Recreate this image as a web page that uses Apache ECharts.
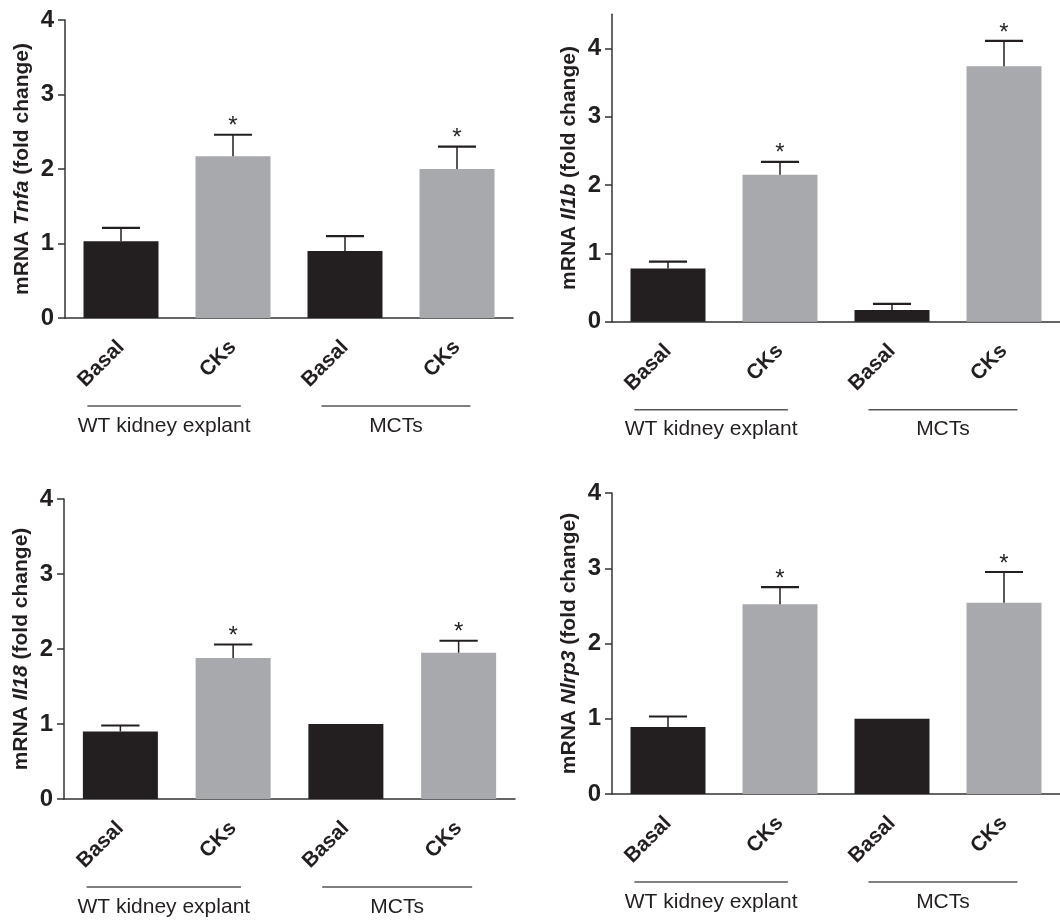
<!DOCTYPE html>
<html>
<head>
<meta charset="utf-8">
<script src="https://cdn.jsdelivr.net/npm/echarts@6/dist/echarts.min.js"></script>
<style>
html,body{margin:0;padding:0;background:#fff;}
#chart{width:1060px;height:920px;}
</style>
</head>
<body>
<div id="chart"></div>
<script>
// ---- Data ----
const categories = ['Basal', 'CKs', 'Basal', 'CKs'];
const groupNames = ['WT kidney explant', 'MCTs'];
const significant = [false, true, false, true];
const yTickValues = [0, 1, 2, 3, 4];

const tnfaMean = [1.03, 2.17, 0.90, 2.00];
const tnfaSem  = [0.18, 0.29, 0.20, 0.30];

const il1bMean = [0.78, 2.15, 0.17, 3.74];
const il1bSem  = [0.10, 0.19, 0.09, 0.37];

const il18Mean = [0.90, 1.88, 1.00, 1.95];
const il18Sem  = [0.08, 0.18, 0.00, 0.16];

const nlrp3Mean = [0.89, 2.52, 1.00, 2.54];
const nlrp3Sem  = [0.14, 0.23, 0.00, 0.41];

const geneNames = ['Tnfa', 'Il1b', 'Il18', 'Nlrp3'];
const yMax = [4, 4.5, 4, 4];
// group spans in category-index units (start, end)
const groupSpans = [[-0.30, 1.07], [1.79, 3.12]];

// ---- Styles / layout ----
const FONT = "'Liberation Sans', Arial, Helvetica, sans-serif";
const TXT = '#231f20';
const AXIS = '#333333';
const BLACK_BAR = '#231f20';
const GRAY_BAR = '#a7a9ac';

const grids = [
  {left: 65,  top: 20,    width: 448, height: 298},
  {left: 612, top: 14.3,  width: 450, height: 307.4},
  {left: 64,  top: 499,   width: 451, height: 300},
  {left: 612, top: 493,   width: 448, height: 301}
];

const means = [tnfaMean, il1bMean, il18Mean, nlrp3Mean];
const sems = [tnfaSem, il1bSem, il18Sem, nlrp3Sem];

const option = {
  animation: false,
  backgroundColor: '#ffffff',
  textStyle: {fontFamily: FONT},
  grid: grids.map(g => Object.assign({containLabel: false}, g)),
  xAxis: grids.map((g, i) => ({
    type: 'category',
    gridIndex: i,
    data: categories,
    axisLine: {lineStyle: {color: AXIS, width: 1.5}},
    axisTick: {alignWithLabel: true, length: 7, lineStyle: {color: AXIS, width: 1.5}},
    axisLabel: {
      interval: 0, rotate: 45, margin: 26,
      fontSize: 21, fontWeight: 'bold', color: TXT, fontFamily: FONT
    },
    splitLine: {show: false}
  })),
  yAxis: grids.map((g, i) => ({
    type: 'value',
    gridIndex: i,
    min: 0,
    max: yMax[i],
    interval: 1,
    name: 'mRNA {i|' + geneNames[i] + '} (fold change)',
    nameLocation: 'middle',
    nameGap: 32,
    nameRotate: 90,
    nameTextStyle: {
      fontSize: 21, fontWeight: 'bold', color: TXT, fontFamily: FONT,
      rich: {i: {fontSize: 21, fontWeight: 'bold', fontStyle: 'italic', color: TXT, fontFamily: FONT}}
    },
    axisLine: {show: true, lineStyle: {color: AXIS, width: 1.5}},
    axisTick: {show: true, length: 7, customValues: yTickValues, lineStyle: {color: AXIS, width: 1.5}},
    axisLabel: {
      customValues: yTickValues, margin: 11,
      fontSize: 24, fontWeight: 'bold', color: TXT, fontFamily: FONT
    },
    splitLine: {show: false}
  })),
  series: []
};

grids.forEach((g, i) => {
  // bars
  option.series.push({
    type: 'bar',
    xAxisIndex: i, yAxisIndex: i,
    barWidth: 75,
    data: means[i].map((v, k) => ({
      value: v,
      itemStyle: {color: categories[k] === 'Basal' ? BLACK_BAR : GRAY_BAR}
    })),
    z: 2
  });
  // error bars + significance
  option.series.push({
    type: 'custom',
    xAxisIndex: i, yAxisIndex: i,
    clip: false,
    z: 3,
    data: means[i].map((v, k) => [k, v, sems[i][k], significant[k] ? 1 : 0]),
    renderItem: function (params, api) {
      const k = api.value(0), m = api.value(1), e = api.value(2), sig = api.value(3);
      const base = api.coord([k, m]);
      const top = api.coord([k, m + e]);
      const band = api.size([1, 0])[0];
      const capHalf = band * 0.17;
      const children = [];
      if (e > 0) {
        children.push({type: 'line', shape: {x1: base[0], y1: base[1], x2: top[0], y2: top[1]},
          style: {stroke: '#231f20', lineWidth: 1.5}});
        children.push({type: 'line', shape: {x1: top[0] - capHalf, y1: top[1], x2: top[0] + capHalf, y2: top[1]},
          style: {stroke: '#231f20', lineWidth: 2.2}});
      }
      if (sig) {
        children.push({type: 'text', x: top[0], y: top[1] - 8,
          style: {text: '*', fontSize: 24, fontFamily: FONT, fill: TXT, align: 'center', verticalAlign: 'middle'}});
      }
      return {type: 'group', children: children};
    }
  });
  // group brackets below axis
  option.series.push({
    type: 'custom',
    xAxisIndex: i, yAxisIndex: i,
    clip: false,
    silent: true,
    data: groupNames.map((n, gi) => [gi]),
    renderItem: function (params, api) {
      const gi = api.value(0);
      const p0 = api.coord([0, 0]);
      const p1 = api.coord([1, 0]);
      const step = p1[0] - p0[0];
      const xs = p0[0] + groupSpans[gi][0] * step;
      const xe = p0[0] + groupSpans[gi][1] * step;
      const y = p0[1] + 88;
      return {type: 'group', children: [
        {type: 'line', shape: {x1: xs, y1: y, x2: xe, y2: y}, style: {stroke: '#555555', lineWidth: 1.5}},
        {type: 'text', x: (xs + xe) / 2, y: y + 20,
          style: {text: groupNames[gi], fontSize: 21, fontFamily: FONT, fill: TXT, align: 'center', verticalAlign: 'middle'}}
      ]};
    }
  });
});

const chart = echarts.init(document.getElementById('chart'), null, {renderer: 'canvas'});
chart.setOption(option);
</script>
</body>
</html>
